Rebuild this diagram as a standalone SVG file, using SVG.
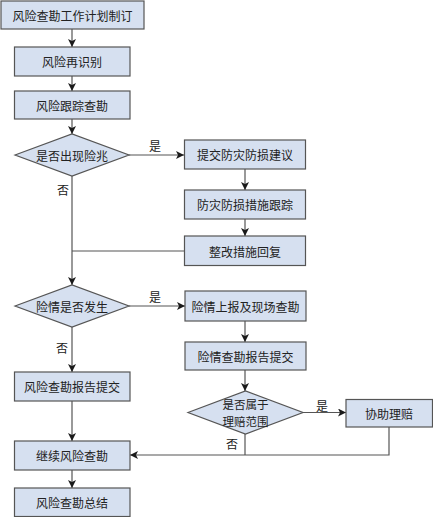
<svg xmlns="http://www.w3.org/2000/svg" width="433" height="517" viewBox="0 0 433 517">
<defs>
<marker id="ah" viewBox="0 0 10 10" refX="10" refY="5" markerWidth="8" markerHeight="8" markerUnits="userSpaceOnUse" orient="auto">
<path d="M0,0 L10,5 L0,10 L2.5,5 Z" fill="#1a1a1a"/>
</marker>
<style>
.n{fill:#d6e0f0;stroke:#555;stroke-width:1.2}
.t{font-family:"Noto Sans CJK SC","Liberation Sans",sans-serif;font-size:12px;fill:#222;text-anchor:middle;dominant-baseline:central}
.s{font-family:"Noto Sans CJK SC","Liberation Sans",sans-serif;font-size:11.5px;fill:#222;text-anchor:middle;dominant-baseline:central}
.c{fill:none;stroke:#555;stroke-width:1.2}
.a{marker-end:url(#ah)}
.l{font-family:"Noto Sans CJK SC","Liberation Sans",sans-serif;font-size:12px;fill:#222;text-anchor:middle;dominant-baseline:central}
</style>
</defs>
<rect width="433" height="517" fill="#fff"/>
<g id="connectors">
<path class="c a" d="M72,29 V47"/>
<path class="c a" d="M72,76 V91"/>
<path class="c a" d="M72,119 V134"/>
<path class="c a" d="M129,155 H184"/>
<path class="c a" d="M245,169 V190"/>
<path class="c a" d="M245,219 V236"/>
<path class="c" d="M184,251 H72"/>
<path class="c a" d="M72,176 V285"/>
<path class="c a" d="M129,306 H185"/>
<path class="c a" d="M72,327 V372"/>
<path class="c a" d="M245,321 V342"/>
<path class="c a" d="M245,370 V391"/>
<path class="c a" d="M303,412.5 H346"/>
<path class="c a" d="M72,401 V441"/>
<path class="c" d="M245,434 V455"/>
<path class="c a" d="M389,427 V455 H130"/>
<path class="c a" d="M72,470 V488"/>
<text class="l" x="155" y="145">是</text>
<text class="l" x="63" y="189">否</text>
<text class="l" x="155" y="296">是</text>
<text class="l" x="62" y="347">否</text>
<text class="l" x="322" y="405">是</text>
<text class="l" x="232" y="443">否</text>
</g>
<g id="n1"><rect class="n" x="1" y="1" width="143" height="28"/><text class="t" x="72.5" y="15">风险查勘工作计划制订</text></g>
<g id="n2"><rect class="n" x="14.5" y="47" width="115.5" height="29"/><text class="t" x="72" y="61.5">风险再识别</text></g>
<g id="n3"><rect class="n" x="14.5" y="91" width="115.5" height="28"/><text class="t" x="72" y="105">风险跟踪查勘</text></g>
<g id="d1"><polygon class="n" points="15,155 72,134 129,155 72,176"/><text class="t" x="72" y="155">是否出现险兆</text></g>
<g id="n4"><rect class="n" x="184.5" y="140" width="121" height="29"/><text class="t" x="245" y="154.5">提交防灾防损建议</text></g>
<g id="n5"><rect class="n" x="184.5" y="190" width="121" height="29"/><text class="t" x="245" y="204.5">防灾防损措施跟踪</text></g>
<g id="n6"><rect class="n" x="184.5" y="236" width="121" height="29.5"/><text class="t" x="245" y="251">整改措施回复</text></g>
<g id="d2"><polygon class="n" points="15,306 72,285 129,306 72,327"/><text class="t" x="72" y="306">险情是否发生</text></g>
<g id="n7"><rect class="n" x="185" y="291" width="121" height="30"/><text class="t" x="245.5" y="306">险情上报及现场查勘</text></g>
<g id="n8"><rect class="n" x="185" y="342" width="121" height="28"/><text class="t" x="245.5" y="356">险情查勘报告提交</text></g>
<g id="n9"><rect class="n" x="14.5" y="372" width="115.5" height="29"/><text class="t" x="72" y="386.5">风险查勘报告提交</text></g>
<g id="d3"><polygon class="n" points="188,412.5 245.5,391 303,412.5 245.5,434"/><text class="s" x="245.5" y="404">是否属于</text><text class="s" x="245.5" y="421">理赔范围</text></g>
<g id="n10"><rect class="n" x="346" y="399.5" width="86.5" height="27.5"/><text class="t" x="389" y="413">协助理赔</text></g>
<g id="n11"><rect class="n" x="14.5" y="441" width="115.5" height="29"/><text class="t" x="72" y="455.5">继续风险查勘</text></g>
<g id="n12"><rect class="n" x="14.5" y="488" width="115.5" height="28.5"/><text class="t" x="72" y="502">风险查勘总结</text></g>
</svg>
